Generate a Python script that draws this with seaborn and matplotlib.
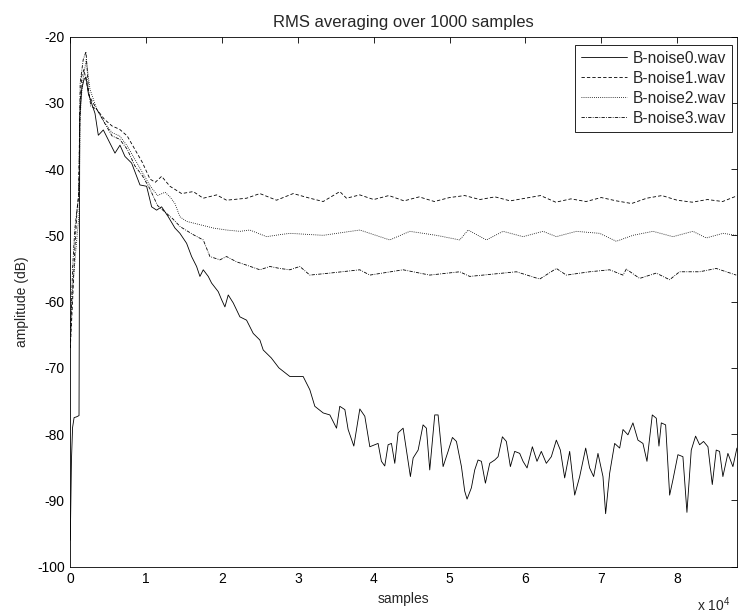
import numpy as np
import pandas as pd
import matplotlib
matplotlib.use("Agg")
import matplotlib.pyplot as plt
import seaborn as sns

# values (sample index, level in dB)
noise0_x = [0, 150, 300, 500, 800, 1150, 1250, 1500, 1800, 2069, 2376, 3255, 3694, 4353, 5012, 5890,
            6549, 7208, 8086, 8745, 9184, 10063, 10721, 11380, 12039, 12917, 13796, 14454, 15333,
            15992, 16651, 17090, 17529, 18188, 18627, 19505, 19944, 20384, 20823, 21482, 22360,
            23238, 24117, 24995, 25434, 26500, 27500, 28946, 30700, 31580, 32240, 33340, 34220,
            35100, 35530, 36200, 36630, 37380, 38170, 38830, 39490, 40580, 41020, 41460, 41900,
            42340, 42780, 43220, 43880, 44320, 44840, 45200, 45860, 46510, 46950, 47390, 48050,
            48490, 49150, 49810, 50380, 50910, 51570, 52000, 52310, 52880, 53320, 53760, 54200,
            54730, 55300, 55960, 56400, 56970, 57490, 58020, 58590, 59250, 59690, 60220, 60920,
            61530, 62100, 62760, 63420, 64080, 64610, 65180, 65840, 66500, 67160, 67950, 68470,
            69000, 69570, 70230, 70580, 71110, 71770, 72430, 72870, 73520, 74180, 74840, 75500,
            76030, 76730, 77260, 77610, 77920, 78490, 79020, 79450, 80110, 80770, 81300, 81870,
            82440, 82970, 83490, 84070, 84640, 85160, 85600, 86040, 86700, 87360, 87890]
noise0_y = [-96, -84, -79, -77.5, -77.4, -77.2, -32, -28, -26.5, -26.1, -28.6, -31.6, -34.9, -34.1,
            -35.6, -37.6, -36.4, -38.1, -39.1, -41.1, -42.4, -42.6, -45.7, -46.2, -45.7, -47.2,
            -48.9, -49.7, -51.2, -53.2, -54.7, -56.2, -55.2, -56.2, -57.2, -58.5, -59.7, -60.8,
            -59.0, -60.2, -62.3, -62.8, -64.8, -65.8, -67.3, -68.5, -70.0, -71.3, -71.3, -73.3,
            -75.8, -76.8, -77.1, -79.1, -75.8, -76.3, -79.3, -81.8, -76.2, -77.3, -81.9, -81.4,
            -84.1, -84.8, -81.6, -81.4, -84.4, -79.8, -79.1, -82.4, -86.4, -83.6, -82.4, -78.6,
            -79.1, -85.4, -77.1, -77.1, -84.9, -82.6, -80.5, -81.1, -84.9, -88.6, -89.8, -88.1,
            -85.4, -83.9, -84.1, -87.4, -84.4, -83.9, -83.4, -80.4, -81.1, -84.9, -82.6, -82.9,
            -84.1, -85.1, -81.9, -84.1, -82.6, -84.4, -83.4, -80.9, -82.4, -86.6, -82.6, -89.2,
            -86.4, -82.1, -85.1, -86.4, -82.9, -86.4, -92.0, -85.9, -81.4, -82.1, -79.3, -80.1,
            -78.3, -80.9, -81.4, -84.1, -77.1, -77.6, -81.8, -78.3, -78.6, -89.2, -86.9, -83.1,
            -83.4, -91.8, -82.4, -80.3, -81.6, -81.1, -81.9, -87.6, -82.4, -82.6, -86.4, -82.9,
            -84.9, -82.1]

noise1_x = [0, 300, 600, 900, 1100, 1300, 1500, 1800, 2500, 3500, 4500, 5500, 6500, 7500, 8500,
            9500, 10500, 11200, 12039, 12258, 13137, 14674, 16211, 17529, 19285, 20603, 23238,
            24995, 27191, 29387, 31583, 33340, 35536, 36414, 38171, 40000, 42000, 44000, 46000,
            48000, 50000, 52000, 54000, 56000, 58000, 60000, 62000, 64000, 66000, 68000, 70000,
            72000, 74000, 76000, 78000, 80000, 82000, 84000, 86000, 88000]
noise1_y = [-67, -60, -52, -46, -44, -30, -26, -25, -29, -31, -32.5, -33.5, -34, -35, -37, -39,
            -41.5, -42, -41.1, -41.4, -42.6, -43.7, -43.4, -44.4, -43.9, -44.7, -44.4, -43.7,
            -44.7, -43.7, -44.4, -44.9, -43.4, -44.4, -43.9, -44.6, -44.0, -44.8, -44.2, -44.9,
            -44.3, -44.0, -44.6, -44.2, -44.8, -44.4, -44.0, -45.0, -44.5, -44.9, -44.3, -44.8,
            -45.2, -44.4, -44.0, -44.7, -45.0, -44.6, -44.9, -44.0]

noise2_x = [0, 300, 600, 900, 1150, 1300, 1600, 2100, 2600, 3500, 4500, 5500, 6500, 7500, 8500,
            9500, 10500, 11500, 12500, 13137, 13796, 14454, 15332, 17089, 18846, 20603, 22360,
            23678, 25874, 27630, 28946, 33338, 38169, 42122, 44757, 48270, 51345, 52443, 54859,
            57055, 59690, 62325, 64082, 66717, 69792, 71988, 74184, 76819, 79454, 82089, 83846,
            86042, 87799]
noise2_y = [-64, -58, -54, -50, -47, -32, -27, -23.5, -28, -31, -33, -34.5, -35, -36.5, -38.5,
            -40.5, -42.5, -44, -43.5, -44.2, -45.2, -47.2, -47.9, -48.4, -48.9, -49.2, -49.4,
            -49.2, -50.2, -49.9, -49.7, -50.0, -49.2, -50.7, -49.4, -50.0, -50.7, -49.2, -50.7,
            -49.4, -50.2, -49.4, -50.2, -49.4, -49.7, -50.9, -50.0, -49.4, -50.2, -49.4, -50.4,
            -49.7, -50.0]

noise3_x = [0, 300, 600, 900, 1100, 1300, 1700, 2069, 2400, 2700, 3500, 4500, 5500, 6500, 7500,
            8500, 9500, 10500, 11500, 12500, 13500, 14500, 16211, 17529, 18407, 19725, 20603,
            21921, 23238, 24995, 26312, 27630, 28946, 30264, 31581, 34216, 38169, 39487, 43879,
            47392, 51345, 52663, 58812, 61886, 64082, 65400, 68474, 71109, 72866, 73305, 75062,
            77258, 79015, 80332, 82968, 85164, 87799]
noise3_y = [-67, -55, -49, -46, -44, -27, -23.5, -22.3, -28, -30.5, -31, -33, -35, -35.5, -37,
            -39.5, -41, -43, -45.5, -46.5, -47.5, -48.7, -49.9, -50.7, -53.2, -53.7, -53.2, -54.0,
            -54.5, -55.2, -54.7, -55.0, -55.2, -54.7, -56.0, -55.7, -55.2, -56.0, -55.2, -56.0,
            -55.5, -56.2, -55.5, -56.6, -55.0, -56.0, -55.5, -55.2, -56.0, -55.1, -56.5, -55.7,
            -56.7, -55.5, -55.5, -55.0, -56.0]

series = [
    ("B-noise0.wav", noise0_x, noise0_y, "-"),
    ("B-noise1.wav", noise1_x, noise1_y, (0, (4, 2.5))),
    ("B-noise2.wav", noise2_x, noise2_y, (0, (1, 1.5))),
    ("B-noise3.wav", noise3_x, noise3_y, (0, (4, 1.5, 1, 1.5))),
]

x_ticks = [0, 10000, 20000, 30000, 40000, 50000, 60000, 70000, 80000]
x_tick_labels = ["0", "1", "2", "3", "4", "5", "6", "7", "8"]
y_ticks = [-100, -90, -80, -70, -60, -50, -40, -30, -20]

sns.set_style("white")
plt.rcParams["font.family"] = ["Liberation Sans", "DejaVu Sans"]
plt.rcParams["font.size"] = 10
plt.rcParams["axes.unicode_minus"] = False
plt.rcParams["mathtext.fontset"] = "custom"
plt.rcParams["mathtext.rm"] = "Liberation Sans"

fig = plt.figure(figsize=(7.38, 6.13), dpi=100)
ax = fig.add_axes([70.3 / 738, 1 - 566.7 / 613, (737 - 70.3) / 738, (566.7 - 36.5) / 613])

for name, xs, ys, ls in series:
    df = pd.DataFrame({"samples": xs, "amp": ys})
    sns.lineplot(data=df, x="samples", y="amp", ax=ax, color="black", lw=0.6,
                 linestyle=ls, label=name, estimator=None)

ax.set_xlim(0, 87900)
ax.set_ylim(-100, -20)
ax.set_xticks(x_ticks)
ax.set_xticklabels(x_tick_labels)
ax.set_yticks(y_ticks)
ax.tick_params(direction="in", length=4, width=0.6, top=True, right=True,
               labeltop=False, labelright=False, pad=4, colors="black")
for sp in ax.spines.values():
    sp.set_color("black")
    sp.set_linewidth(0.6)

ax.set_title("RMS averaging over 1000 samples", pad=7)
ax.set_xlabel("samples", labelpad=4)
ax.set_ylabel("amplitude (dB)", labelpad=6)
fig.text(697 / 738, 1 - 605 / 613, "x 10$^{4}$", ha="left", va="center", fontsize=10)

leg = ax.legend(loc="upper right", bbox_to_anchor=(1 - 5 / 667, 1 - 8.5 / 530),
                borderaxespad=0, frameon=True, fancybox=False, edgecolor="black",
                framealpha=1, handlelength=3.0, labelspacing=0.32, borderpad=0.38,
                handletextpad=0.35, fontsize=11.2)
leg.get_frame().set_linewidth(0.6)

fig.savefig("out.png", dpi=100)
